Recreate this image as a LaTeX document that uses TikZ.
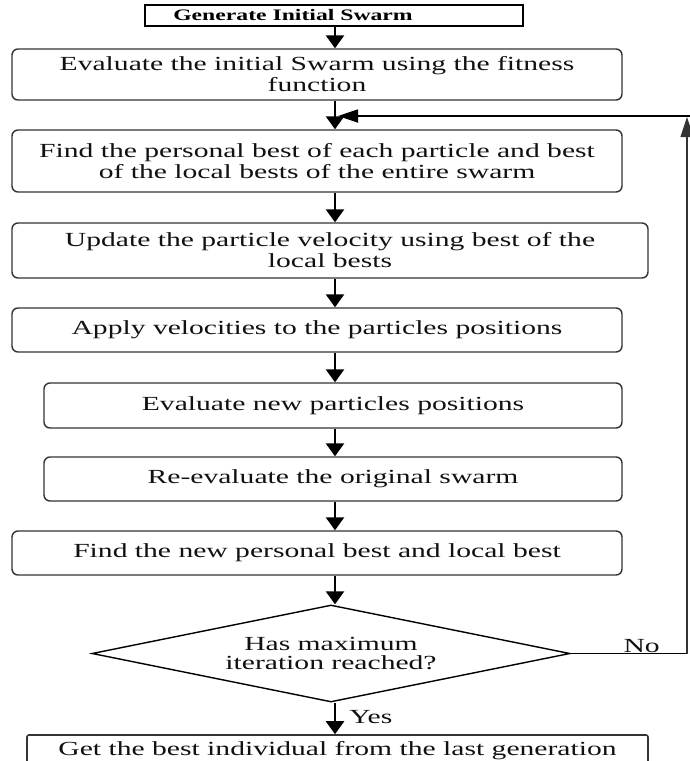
\documentclass[tikz,border=0pt]{standalone}
\usepackage{fontspec}
\setmainfont{Liberation Serif}[FakeStretch=1.48]
\usetikzlibrary{arrows.meta,shapes.geometric}
\definecolor{edge}{HTML}{333333}
\definecolor{ink}{HTML}{111111}
\tikzset{
  stepbox/.style={draw=edge, line width=1.4pt, rounded corners=6pt, inner sep=0pt,
    align=center, text=ink, font=\fontsize{20}{21}\selectfont},
  topbox/.style={draw=black, line width=2.4pt, inner sep=0pt, text=black,
    font=\fontsize{16}{16}\selectfont\bfseries},
  decision/.style={draw=black, line width=1.4pt, shape=diamond, aspect=4.93, inner sep=0pt,
    align=center, text=ink, font=\fontsize{20}{19}\selectfont},
  arr/.style={draw=black, line width=2.6pt, -{Triangle[width=18pt,length=13pt]}},
  fb/.style={draw=black, line width=1.6pt},
  fbarr/.style={draw=black, line width=1.8pt, -{Triangle[width=13pt,length=20pt]}},
  lbl/.style={text=ink, font=\fontsize{20}{21}\selectfont, inner sep=1pt}
}
\begin{document}
\begin{tikzpicture}[x=1pt,y=-1pt]
\useasboundingbox[fill=white] (0,0) rectangle (689,761);
\coordinate (m) at (335,0);
\node[topbox, minimum width=378pt, minimum height=21pt] (b1) at (334,15.5) {Generate Initial Swarm\hspace*{82pt}};
\node[stepbox, minimum width=610pt, minimum height=51pt] (b2) at (317,74.5) {Evaluate the initial Swarm using the fitness\\function};
\node[stepbox, minimum width=610pt, minimum height=62pt] (b3) at (317,161) {Find the personal best of each particle and best\\of the local bests of the entire swarm};
\node[stepbox, minimum width=636pt, minimum height=55pt] (b4) at (330,250.5) {Update the particle velocity using best of the\\local bests};
\node[stepbox, minimum width=610pt, minimum height=44pt] (b5) at (317,330) {Apply velocities to the particles positions};
\node[stepbox, minimum width=578pt, minimum height=45pt] (b6) at (333,405.5) {Evaluate new particles positions};
\node[stepbox, minimum width=578pt, minimum height=44pt] (b7) at (333,479) {Re-evaluate the original swarm};
\node[stepbox, minimum width=610pt, minimum height=44pt] (b8) at (317,553) {Find the new personal best and local best};
\node[decision, minimum width=478pt, minimum height=97pt] (dia) at (331,653.5) {Has maximum\\iteration reached?};
\node[stepbox, rounded corners=2pt, line width=1.6pt, minimum width=621pt, minimum height=46pt, text height=14pt, text depth=20pt] (b9) at (337.5,758) {Get the best individual from the last generation};
% main flow
\draw[arr] (b1.south -| m) -- (b2.north -| m);
\draw[arr] (b2.south -| m) -- (b3.north -| m);
\draw[arr] (b3.south -| m) -- (b4.north -| m);
\draw[arr] (b4.south -| m) -- (b5.north -| m);
\draw[arr] (b5.south -| m) -- (b6.north -| m);
\draw[arr] (b6.south -| m) -- (b7.north -| m);
\draw[arr] (b7.south -| m) -- (b8.north -| m);
\draw[arr] (b8.south -| m) -- (dia.north -| m);
\draw[arr] (dia.south -| m) -- node[lbl, right=12pt, pos=0.45] {Yes} (b9.north -| m);
% feedback loop
\coordinate (fr) at (687,653.5);
\coordinate (ft) at (687,117);
\coordinate (hs) at (692,116);
\coordinate (ht) at (338,116);
\draw[fb] (dia.east) -- node[lbl, above=-1pt, pos=0.61] {No} (fr);
\draw[fbarr, line width=1.2pt, draw=edge] (fr) -- (ft);
\draw[fbarr] (hs) -- (ht);
\end{tikzpicture}
\end{document}
